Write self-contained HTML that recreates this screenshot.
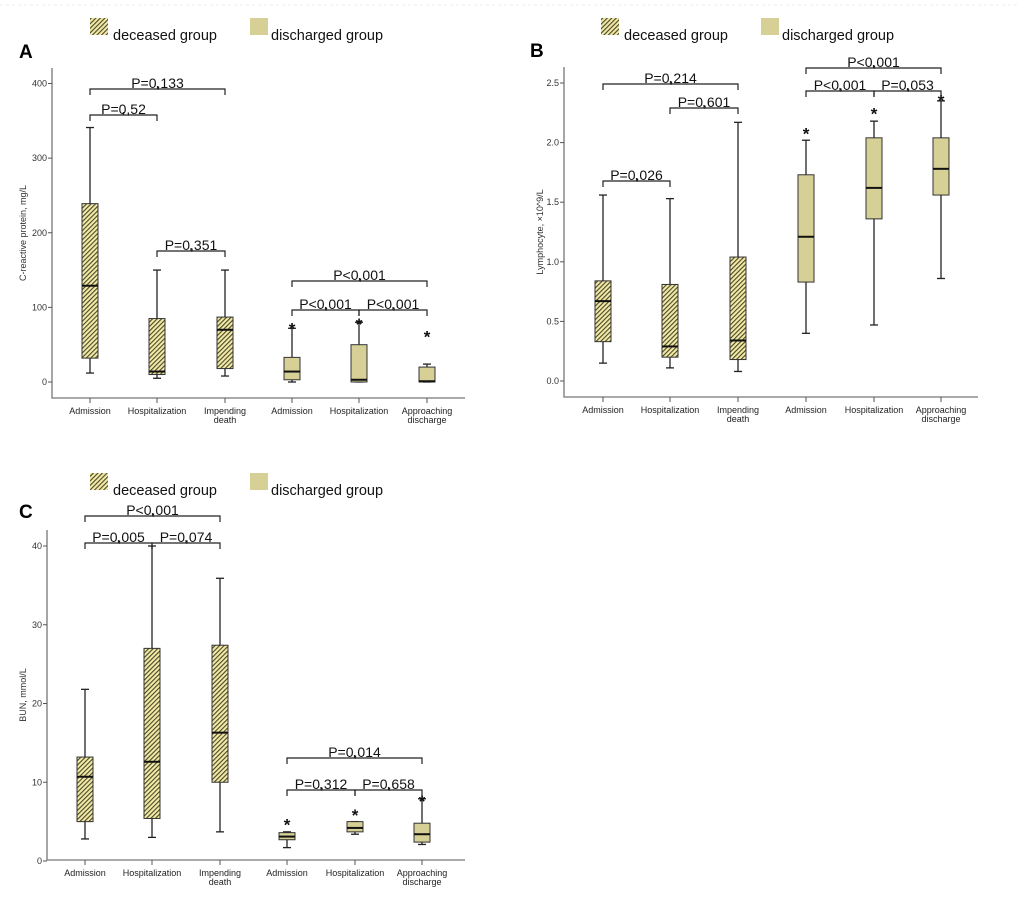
<!DOCTYPE html>
<html><head><meta charset="utf-8"><style>
body{margin:0;background:#fff;}
svg{display:block;font-family:"Liberation Sans",sans-serif;}
</style></head><body>
<svg id="c" width="1020" height="904" viewBox="0 0 1020 904">
<defs>
<pattern id="hatch" width="3.2" height="3.2" patternUnits="userSpaceOnUse" patternTransform="rotate(45)">
<rect width="3.2" height="3.2" fill="#f2eaa6"/>
<rect width="1.1" height="3.2" fill="#4a4628"/>
</pattern>
</defs>
<rect x="0" y="0" width="1020" height="904" fill="#fff"/>
<line x1="0" y1="5" x2="1020" y2="5" stroke="#eee" stroke-dasharray="3,3"/>
</svg>
<script>
// Panel A
const catsA = ["Admission","Hospitalization","Impending|death","Admission","Hospitalization","Approaching|discharge"];
const minA = [12,5,8,0,0,0];
const q1A = [32,10,18,3,0,0];
const medA = [129,14,70,14,3,1];
const q3A = [239,85,87,33,50,20];
const maxA = [341,150,150,72,80,24];
const starA = [null,null,null,76,82,65];
const ticksA = [0,100,200,300,400];
const pA = ["P=0,133","P=0,52","P=0,351","P<0,001","P<0,001","P<0,001"];
// Panel B
const catsB = catsA;
const minB = [0.15,0.11,0.08,0.40,0.47,0.86];
const q1B = [0.33,0.20,0.18,0.83,1.36,1.56];
const medB = [0.67,0.29,0.34,1.21,1.62,1.78];
const q3B = [0.84,0.81,1.04,1.73,2.04,2.04];
const maxB = [1.56,1.53,2.17,2.02,2.18,2.35];
const starB = [null,null,null,2.10,2.27,2.38];
const ticksB = [0,0.5,1,1.5,2,2.5];
const pB = ["P=0,214","P=0,601","P=0,026","P<0,001","P<0,001","P=0,053"];
// Panel C
const catsC = catsA;
const minC = [2.8,3,3.7,1.7,3.4,2.1];
const q1C = [5,5.4,10,2.7,3.7,2.4];
const medC = [10.7,12.6,16.3,3.1,4.2,3.4];
const q3C = [13.2,27,27.4,3.6,5,4.8];
const maxC = [21.8,40,35.9,3.7,5,7.9];
const starC = [null,null,null,5,6.2,8];
const ticksC = [0,10,20,30,40];
const pC = ["P<0,001","P=0,005","P=0,074","P=0,014","P=0,312","P=0,658"];

const NS="http://www.w3.org/2000/svg";
const svg=document.getElementById('c');
function mk(tag,attrs,parent,txt){const e=document.createElementNS(NS,tag);for(const k in attrs)e.setAttribute(k,attrs[k]);if(txt!==undefined)e.textContent=txt;(parent||svg).appendChild(e);return e;}

function panel(o){
  const g=mk('g',{});
  
  
  const y=v=>o.y0+(v-o.v0)*(o.yTop-o.y0)/(o.vTop-o.v0);
  const lg=mk('g',{},g);
  
  
  const s1=mk('rect',{x:o.lx1,y:o.ly,width:18,height:17,fill:'url(#hatch)'},lg);
  
  
  const t1=mk('text',{x:o.lx1+23,y:o.ly+22,'font-size':14.5,fill:'#111'},lg,'deceased group');
  
  
  const s2=mk('rect',{x:o.lx2,y:o.ly,width:18,height:17,fill:'#d6cf96'},lg);
  
  
  const t2=mk('text',{x:o.lx2+21,y:o.ly+22,'font-size':14.5,fill:'#111'},lg,'discharged group');
  
  
  const L=mk('text',{x:o.Lx,y:o.Ly,'font-size':19,'font-weight':'bold',fill:'#000'},g,o.letter);
  
  
  const ax=mk('path',{d:`M${o.ax} ${o.axTop} V${o.axB} H${o.axR}`,stroke:'#777',fill:'none','stroke-width':1.3},g);
  
  
  o.ticks.forEach(t=>{
    const yy=y(t);
    const tl=mk('line',{x1:o.ax-4,x2:o.ax,y1:yy,y2:yy,stroke:'#555'},g);
    
    
    const tt=mk('text',{x:o.ax-5,y:yy+3,'font-size':9,'text-anchor':'end',fill:'#333'},g,o.fmt(t));
    
    
  });
  const yt=mk('text',{x:0,y:0,'font-size':9,'text-anchor':'middle',fill:'#333',transform:`translate(${o.ytx},${(o.axTop+o.axB)/2}) rotate(-90)`},g,o.ytitle);
  
  
  o.cats.forEach((c,i)=>{
    const x=o.xs[i];
    const xt=mk('line',{x1:x,x2:x,y1:o.axB,y2:o.axB+5,stroke:'#555'},g);
    
    
    const parts=c.split('|');
    parts.forEach((p,j)=>{
      const tx=mk('text',{x:x,y:o.axB+16+j*9,'font-size':9,'text-anchor':'middle',fill:'#222'},g,p);
      
      
    });
    const bg=mk('g',{},g);
    
    
    const w=16;
    mk('line',{x1:x,x2:x,y1:y(o.max[i]),y2:y(o.q3[i]),stroke:'#222','stroke-width':1.3},bg);
    mk('line',{x1:x,x2:x,y1:y(o.q1[i]),y2:y(o.min[i]),stroke:'#222','stroke-width':1.3},bg);
    mk('line',{x1:x-4,x2:x+4,y1:y(o.max[i]),y2:y(o.max[i]),stroke:'#222','stroke-width':1.3},bg);
    mk('line',{x1:x-4,x2:x+4,y1:y(o.min[i]),y2:y(o.min[i]),stroke:'#222','stroke-width':1.3},bg);
    mk('rect',{x:x-w/2,y:y(o.q3[i]),width:w,height:Math.max(1,y(o.q1[i])-y(o.q3[i])),fill:i<3?'url(#hatch)':'#d6cf96',stroke:'#333','stroke-width':1},bg);
    mk('line',{x1:x-w/2,x2:x+w/2,y1:y(o.med[i]),y2:y(o.med[i]),stroke:'#111','stroke-width':2},bg);
    if(o.star[i]!==null){
      const st=mk('text',{x:x,y:y(o.star[i])+9,'font-size':17,'font-weight':'bold','text-anchor':'middle',fill:'#111'},g,'*');
      
      
    }
  });
  o.br.forEach((b,k)=>{
    const x1=o.xs[b[0]],x2=o.xs[b[1]],yy=b[2],m=(x1+x2)/2;
    const p=mk('path',{d:`M${x1} ${yy+6} V${yy} H${x2} V${yy+6} M${m} ${yy} v-3`,stroke:'#222',fill:'none','stroke-width':1.2},g);
    
    
    const t=mk('text',{x:m,y:yy-1,'font-size':14,'text-anchor':'middle',fill:'#111'},g,o.p[k]);
    
    
  });
}

panel({letter:'A',Lx:19,Ly:58,lx1:90,lx2:250,ly:18,ax:52,axTop:68,axB:398,axR:465,y0:382,v0:0,yTop:83.5,vTop:400,
  ticks:ticksA,fmt:t=>String(t),ytitle:'C-reactive protein, mg/L',ytx:26,xs:[90,157,225,292,359,427],
  cats:catsA,min:minA,q1:q1A,med:medA,q3:q3A,max:maxA,star:starA,p:pA,
  br:[[0,2,89],[0,1,115],[1,2,251],[3,5,281],[3,4,310],[4,5,310]]});
panel({letter:'B',Lx:530,Ly:57,lx1:601,lx2:761,ly:18,ax:564,axTop:67,axB:397,axR:978,y0:381,v0:0,yTop:83,vTop:2.5,
  ticks:ticksB,fmt:t=>t.toFixed(1),ytitle:'Lymphocyte, ×10^9/L',ytx:543,xs:[603,670,738,806,874,941],
  cats:catsB,min:minB,q1:q1B,med:medB,q3:q3B,max:maxB,star:starB,p:pB,
  br:[[0,2,84],[1,2,108],[0,1,181],[3,5,68],[3,4,91],[4,5,91]]});
panel({letter:'C',Lx:19,Ly:518,lx1:90,lx2:250,ly:473,ax:47,axTop:530,axB:860,axR:465,y0:861,v0:0,yTop:546,vTop:40,
  ticks:ticksC,fmt:t=>String(t),ytitle:'BUN, mmol/L',ytx:26,xs:[85,152,220,287,355,422],
  cats:catsC,min:minC,q1:q1C,med:medC,q3:q3C,max:maxC,star:starC,p:pC,
  br:[[0,2,516],[0,1,543],[1,2,543],[3,5,758],[3,4,790],[4,5,790]]});
</script>
</body></html>
